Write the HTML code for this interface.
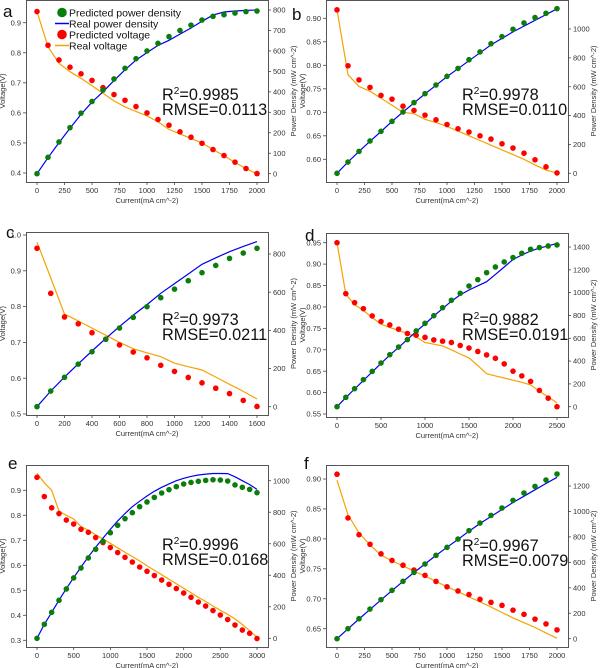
<!DOCTYPE html>
<html><head><meta charset="utf-8"><style>
body{margin:0;background:#fff;}
svg{display:block;font-family:"Liberation Sans",sans-serif;}
</style></head><body>
<svg id="chart" width="600" height="668" viewBox="0 0 600 668" xmlns="http://www.w3.org/2000/svg"></svg>
<script>
// ---- Panel a ----
const aCurrent=[0,100,200,300,400,500,600,700,800,900,1000,1100,1200,1300,1400,1500,1600,1700,1800,1900,2000];
const aPredP=[0,80,155,225,296,353,409,463,515,562,600,637,670,700,726,751,769,777,785,792,795];
const aRealP=[0,78,152,222,290,350,400,455,508,555,592,627,652,682,712,745,775,790,795,798,800];
const aPredV=[0.937,0.825,0.776,0.752,0.730,0.708,0.684,0.661,0.642,0.621,0.600,0.578,0.559,0.537,0.519,0.499,0.478,0.458,0.436,0.415,0.398];
const aRealV=[0.937,0.82,0.765,0.737,0.715,0.69,0.665,0.64,0.62,0.605,0.59,0.57,0.545,0.53,0.515,0.50,0.478,0.458,0.435,0.415,0.397];
const aXTicks=[0,250,500,750,1000,1250,1500,1750,2000];
const aVTicks=[0.4,0.5,0.6,0.7,0.8,0.9];
const aPTicks=[0,100,200,300,400,500,600,700,800];
// ---- Panel b ----
const bCurrent=[0,100,200,300,400,500,600,700,800,900,1000,1100,1200,1300,1400,1500,1600,1700,1800,1900,2000];
const bPredP=[0,78,152,224,291,360,425,490,552,612,672,727,787,841,898,947,998,1042,1079,1109,1141];
const bRealP=[0,78,152,222,290,360,425,488,550,610,670,725,780,835,890,935,980,1020,1060,1100,1140];
const bPredV=[0.918,0.799,0.769,0.753,0.736,0.728,0.713,0.704,0.694,0.684,0.674,0.665,0.658,0.650,0.643,0.633,0.624,0.613,0.599,0.584,0.571];
const bRealV=[0.918,0.78,0.755,0.745,0.73,0.715,0.70,0.697,0.685,0.678,0.67,0.66,0.65,0.64,0.63,0.62,0.61,0.60,0.588,0.577,0.571];
const bXTicks=[0,250,500,750,1000,1250,1500,1750,2000];
const bVTicks=[0.60,0.65,0.70,0.75,0.80,0.85,0.90];
const bPTicks=[0,200,400,600,800,1000];
// ---- Panel c ----
const cCurrent=[0,100,200,300,400,500,600,700,800,900,1000,1100,1200,1300,1400,1500,1600];
const cPredP=[0,82,154,223,288,353,412,468,524,571,616,660,702,740,777,805,830];
const cRealP=[0,82,155,225,292,358,420,480,535,594,645,695,746,780,812,840,865];
const cPredV=[0.963,0.837,0.771,0.752,0.727,0.709,0.693,0.673,0.657,0.636,0.619,0.602,0.587,0.572,0.557,0.538,0.521];
const cRealV=[0.98,0.88,0.779,0.76,0.74,0.72,0.70,0.682,0.671,0.66,0.642,0.632,0.623,0.603,0.583,0.563,0.542];
const cXTicks=[0,200,400,600,800,1000,1200,1400,1600];
const cVTicks=[0.5,0.6,0.7,0.8,0.9,1.0];
const cPTicks=[0,200,400,600,800];
// ---- Panel d ----
const dCurrent=[0,100,200,300,400,500,600,700,800,900,1000,1100,1200,1300,1400,1500,1600,1700,1800,1900,2000,2100,2200,2300,2400,2500];
const dPredP=[0,82,158,237,310,383,456,523,588,664,731,798,868,933,994,1058,1114,1175,1225,1269,1307,1345,1380,1395,1409,1418];
const dRealP=[0,80,155,230,305,380,452,520,590,660,725,795,860,925,980,1023,1060,1096,1160,1225,1290,1330,1365,1390,1410,1432];
const dPredV=[0.95,0.831,0.810,0.796,0.779,0.766,0.758,0.748,0.738,0.734,0.729,0.723,0.720,0.717,0.710,0.704,0.696,0.688,0.680,0.667,0.650,0.639,0.626,0.605,0.587,0.567];
const dRealV=[0.95,0.83,0.805,0.792,0.775,0.76,0.752,0.745,0.738,0.73,0.717,0.713,0.709,0.70,0.69,0.681,0.663,0.644,0.639,0.634,0.629,0.624,0.618,0.603,0.59,0.576];
const dXTicks=[0,500,1000,1500,2000,2500];
const dVTicks=[0.55,0.60,0.65,0.70,0.75,0.80,0.85,0.90,0.95];
const dPTicks=[0,200,400,600,800,1000,1200,1400];
// ---- Panel e ----
const eCurrent=[0,100,200,300,400,500,600,700,800,900,1000,1100,1200,1300,1400,1500,1600,1700,1800,1900,2000,2100,2200,2300,2400,2500,2600,2700,2800,2900,3000];
const ePredP=[0,89,165,241,313,383,446,510,565,615,670,717,759,797,835,865,894,922,943,962,979,989,996,1002,1006,1004,998,973,958,945,924];
const eRealP=[0,88,165,242,315,385,452,517,578,636,691,745,792,835,870,903,933,958,980,1000,1015,1027,1036,1042,1046,1046,1045,1025,1000,975,945];
const ePredV=[0.952,0.875,0.830,0.807,0.781,0.765,0.744,0.732,0.711,0.691,0.671,0.651,0.632,0.613,0.593,0.576,0.559,0.541,0.524,0.507,0.489,0.472,0.453,0.437,0.419,0.401,0.383,0.361,0.341,0.328,0.307];
const eRealV=[0.968,0.93,0.90,0.817,0.80,0.785,0.755,0.74,0.722,0.705,0.688,0.67,0.652,0.635,0.617,0.598,0.58,0.562,0.544,0.526,0.508,0.49,0.472,0.455,0.437,0.42,0.404,0.385,0.363,0.338,0.312];
const eXTicks=[0,500,1000,1500,2000,2500,3000];
const eVTicks=[0.3,0.4,0.5,0.6,0.7,0.8,0.9];
const ePTicks=[0,200,400,600,800,1000];
// ---- Panel f ----
const fCurrent=[0,100,200,300,400,500,600,700,800,900,1000,1100,1200,1300,1400,1500,1600,1700,1800,1900,2000];
const fPredP=[0,79,157,233,307,380,451,521,587,655,718,783,849,909,969,1027,1087,1145,1197,1247,1294];
const fRealP=[0,78,155,230,305,378,450,520,587,655,718,780,845,905,960,1015,1070,1120,1170,1220,1268];
const fPredV=[0.908,0.835,0.807,0.791,0.775,0.764,0.756,0.748,0.739,0.729,0.720,0.713,0.707,0.699,0.694,0.689,0.681,0.674,0.666,0.658,0.648];
const fRealV=[0.898,0.84,0.810,0.79,0.773,0.763,0.755,0.746,0.738,0.729,0.72,0.712,0.703,0.695,0.686,0.677,0.668,0.66,0.652,0.643,0.634];
const fXTicks=[0,250,500,750,1000,1250,1500,1750,2000];
const fVTicks=[0.65,0.70,0.75,0.80,0.85,0.90];
const fPTicks=[0,200,400,600,800,1000,1200];

const NS='http://www.w3.org/2000/svg';
const svg=document.getElementById('chart');
function mk(tag,attrs,parent){const e=document.createElementNS(NS,tag);for(const k in attrs)e.setAttribute(k,attrs[k]);(parent||svg).appendChild(e);return e;}
function lin(v0,p0,v1,p1){return v=>p0+(v-v0)*(p1-p0)/(v1-v0);}

const panels=[
 {id:'a',box:[26,0,268,182],x:lin(0,37,2000,257),v:lin(0.9,22.7,0.4,173),p:lin(0,173.7,800,10),cur:aCurrent,pp:aPredP,rp:aRealP,pv:aPredV,rv:aRealV,xt:aXTicks,vt:aVTicks,pt:aPTicks,vd:1,lx:3,ly:11,legend:true,r2:'0.9985',rmse:'0.0113',ty:100},
 {id:'b',box:[326,0,568,182],x:lin(0,337,2000,557),v:lin(0.9,18.3,0.6,159.3),p:lin(0,173.3,1000,29),cur:bCurrent,pp:bPredP,rp:bRealP,pv:bPredV,rv:bRealV,xt:bXTicks,vt:bVTicks,pt:bPTicks,vd:2,lx:292,ly:14,r2:'0.9978',rmse:'0.0110',ty:100},
 {id:'c',box:[26,232,268,415],x:lin(0,37,1600,257),v:lin(1.0,235,0.5,414),p:lin(0,406.7,800,254),cur:cCurrent,pp:cPredP,rp:cRealP,pv:cPredV,rv:cRealV,xt:cXTicks,vt:cVTicks,pt:cPTicks,vd:1,lx:6,ly:232,r2:'0.9973',rmse:'0.0211',ty:325},
 {id:'d',box:[326,233,568,417],x:lin(0,337,2500,557),v:lin(0.95,242.7,0.55,414),p:lin(0,406.7,1400,247),cur:dCurrent,pp:dPredP,rp:dRealP,pv:dPredV,rv:dRealV,xt:dXTicks,vt:dVTicks,pt:dPTicks,vd:2,lx:305,ly:235,r2:'0.9882',rmse:'0.0191',ty:325},
 {id:'e',box:[26,465,268,647],x:lin(0,37,3000,257),v:lin(0.9,490.3,0.3,640.3),p:lin(0,638.3,1000,480.7),cur:eCurrent,pp:ePredP,rp:eRealP,pv:ePredV,rv:eRealV,xt:eXTicks,vt:eVTicks,pt:ePTicks,vd:1,lx:8,ly:463,r2:'0.9996',rmse:'0.0168',ty:550},
 {id:'f',box:[326,465,568,647],x:lin(0,337,2000,557),v:lin(0.9,479,0.65,628.7),p:lin(0,638.7,1200,486),cur:fCurrent,pp:fPredP,rp:fRealP,pv:fPredV,rv:fRealV,xt:fXTicks,vt:fVTicks,pt:fPTicks,vd:2,lx:304,ly:463,r2:'0.9967',rmse:'0.0079',ty:551}
];

panels.forEach(P=>{
 const [L,T,R,B]=P.box;
 const g=mk('g',{});
 
 
 const fr=mk('rect',{x:L+0.5,y:T+0.5,width:R-L,height:B-T,fill:'none',stroke:'#555','stroke-width':1},g);
 
 
 P.xt.forEach(t=>{const X=P.x(t);
  mk('line',{x1:X,y1:B,x2:X,y2:B+3,stroke:'#444','stroke-width':0.8},g);
  const tx=mk('text',{x:X,y:B+11,'font-size':7.5,fill:'#333','text-anchor':'middle'},g);tx.textContent=t;
  
  
 });
 P.vt.forEach(t=>{const Y=P.v(t);
  mk('line',{x1:L-3,y1:Y,x2:L,y2:Y,stroke:'#444','stroke-width':0.8},g);
  const tx=mk('text',{x:L-5,y:Y+2.6,'font-size':7.5,fill:'#333','text-anchor':'end'},g);tx.textContent=t.toFixed(P.vd);
  
  
 });
 P.pt.forEach(t=>{const Y=P.p(t);
  mk('line',{x1:R,y1:Y,x2:R+3,y2:Y,stroke:'#444','stroke-width':0.8},g);
  const tx=mk('text',{x:R+5,y:Y+2.6,'font-size':7.5,fill:'#333'},g);tx.textContent=t;
  
  
 });
 const xl=mk('text',{x:(L+R)/2,y:B+21,'font-size':7.5,fill:'#333','text-anchor':'middle'},g);xl.textContent='Current(mA cm^-2)';
 
 
 const my=(T+B)/2;
 const yl=mk('text',{x:L-21,y:my,'font-size':7.5,fill:'#333','text-anchor':'middle',transform:`rotate(-90 ${L-21} ${my})`},g);yl.textContent='Voltage(V)';
 
 
 const rx=R+28;
 const pl=mk('text',{x:rx,y:my,'font-size':7.5,fill:'#333','text-anchor':'middle',transform:`rotate(-90 ${rx} ${my})`},g);pl.textContent='Power Density (mW cm^-2)';
 
 
 const ptsStr=(ys,f)=>P.cur.map((c,i)=>P.x(c).toFixed(1)+','+f(ys[i]).toFixed(1)).join(' ');
 const rv=mk('polyline',{points:ptsStr(P.rv,P.v),fill:'none',stroke:'#f5a300','stroke-width':1.2},g);
 
 
 const rp=mk('polyline',{points:ptsStr(P.rp,P.p),fill:'none',stroke:'#0000ee','stroke-width':1.2},g);
 
 
 P.cur.forEach((c,i)=>{
  const d1=mk('circle',{cx:P.x(c),cy:P.v(P.pv[i]),r:2.8,fill:'#ff0000'},g);
  
  
  const d2=mk('circle',{cx:P.x(c),cy:P.p(P.pp[i]),r:2.8,fill:'#0a7d0a'},g);
  
  
 });
 const lt=mk('text',{x:P.lx,y:P.ly+6,'font-size':17,fill:'#111'},g);lt.textContent=P.id;
 
 
 const t1=mk('text',{x:L+136,y:P.ty,'font-size':16.3,fill:'#111'},g);t1.innerHTML='R<tspan font-size="10" dy="-6">2</tspan><tspan dy="6">='+P.r2+'</tspan>';
 
 
 const t2=mk('text',{x:L+136,y:P.ty+15,'font-size':16.3,fill:'#111'},g);t2.textContent='RMSE='+P.rmse;
 
 
 if(P.legend){
  const lg=mk('g',{},g);
  
  
  const items=[['c','#0a7d0a','Predicted power density'],['l','#0000ee','Real power density'],['c','#ff0000','Predicted voltage'],['l','#f5a300','Real voltage']];
  items.forEach((it,k)=>{const y=12.5+k*11;
   if(it[0]==='c')mk('circle',{cx:62,cy:y,r:4.8,fill:it[1]},lg);else mk('line',{x1:55,y1:y,x2:69,y2:y,stroke:it[1],'stroke-width':1.5},lg);
   const tt=mk('text',{x:69,y:y+4,'font-size':10.5,fill:'#111'},lg);tt.textContent=it[2];
   
   
  });
 }
});
</script>
</body></html>
